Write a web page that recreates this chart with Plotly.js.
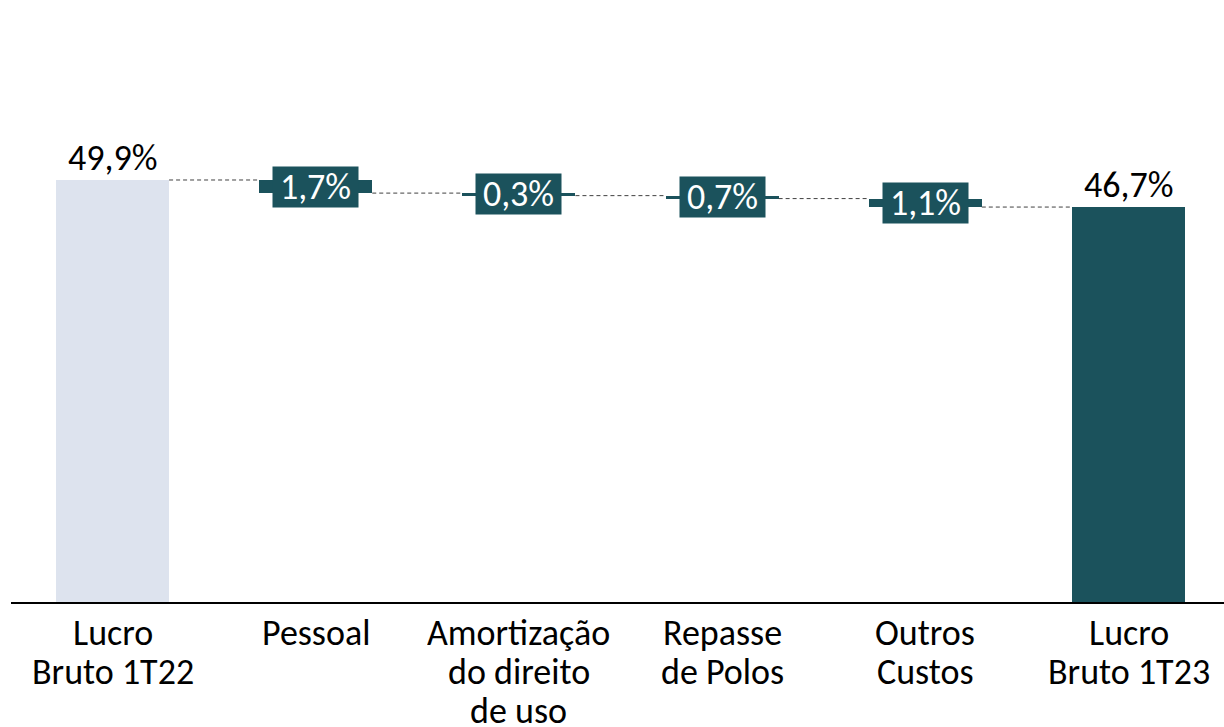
<!DOCTYPE html>
<html>
<head>
<meta charset="utf-8">
<script src="https://cdn.plot.ly/plotly-3.0.1.min.js"></script>
<style>html,body{margin:0;padding:0;background:#fff;}#chart{width:1224px;height:727px;}</style>
</head>
<body>
<div id="chart"></div>
<script>
// Categories (tick labels, lines separated by <br>)
const categories = ["Lucro<br>Bruto 1T22", "Pessoal", "Amortização<br>do direito<br>de uso", "Repasse<br>de Polos", "Outros<br>Custos", "Lucro<br>Bruto 1T23"];
// Bar heights as drawn (p.p.), first and last are totals
const startValue = 49.9;
const drops = [1.55, 0.3, 0.35, 1.0];
const endValue = 46.7;
// Value labels
const valueLabels = ["49,9%", "1,7%", "0,3%", "0,7%", "1,1%", "46,7%"];

const FONT = "Carlito, Lato, sans-serif";
const FS = 36;
const LIGHT = "#DDE3EE", DARK = "#1B525C";
const W = 0.556;

const xs = categories.map((_, i) => i);
const heights = [startValue, ...drops, endValue];
const bases = [0];
let level = startValue;
const levels = [startValue];
drops.forEach(d => { level -= d; bases.push(level); levels.push(level); });
bases.push(0);
const colors = xs.map(i => i === 0 ? LIGHT : DARK);

// connector lines
const cx = [], cy = [];
for (let i = 0; i < 5; i++) {
  const lv = levels[i];
  const nextLevel = (i === 4) ? endValue : lv;
  cx.push(i + W / 2, i + 1 - W / 2, null);
  cy.push(lv, nextLevel, null);
}

const traces = [
  {
    type: "bar", x: xs, y: heights, base: bases, width: W,
    marker: { color: colors, line: { width: 0 } },
    hoverinfo: "skip", showlegend: false
  },
  {
    type: "scatter", mode: "lines", x: cx, y: cy,
    line: { color: "#404040", width: 1, dash: "4px,3px" },
    hoverinfo: "skip", showlegend: false
  }
];

const annotations = [];
xs.forEach(i => {
  if (i === 0 || i === 5) {
    annotations.push({
      x: i, y: heights[i], xref: "x", yref: "y", text: valueLabels[i],
      showarrow: false, yanchor: "bottom", yshift: -2,
      font: { family: FONT, size: FS, color: "#000" }
    });
  } else {
    annotations.push({
      x: i, y: bases[i] + heights[i] / 2, xref: "x", yref: "y", text: valueLabels[i],
      showarrow: false, yanchor: "middle", xanchor: "center",
      bgcolor: DARK, borderpad: 3, width: 79, height: 34,
      font: { family: FONT, size: FS, color: "#fff" }
    });
  }
  // category label lines under the axis (39px line spacing)
  categories[i].split("<br>").forEach((line, k) => {
    annotations.push({
      x: i, y: 0, xref: "x", yref: "y", text: line,
      showarrow: false, yanchor: "middle", xanchor: "center",
      height: 38, yshift: -(31 + 39 * k),
      font: { family: FONT, size: FS, color: "#000" }
    });
  });
});

const layout = {
  width: 1224, height: 727,
  margin: { l: 11, r: 0, t: 10, b: 125 },
  paper_bgcolor: "#fff", plot_bgcolor: "#fff",
  font: { family: FONT, size: FS, color: "#000" },
  xaxis: {
    range: [-0.5, 5.47], tickmode: "array", tickvals: xs, showticklabels: false,
    showline: true, linecolor: "#000", linewidth: 2, showgrid: false, zeroline: false,
    ticks: "", fixedrange: true
  },
  yaxis: {
    range: [0, 70], visible: false, showgrid: false, zeroline: false, fixedrange: true
  },
  bargap: 0, showlegend: false,
  annotations: annotations
};

Plotly.newPlot("chart", traces, layout, { displayModeBar: false, staticPlot: true });
</script>
</body>
</html>
